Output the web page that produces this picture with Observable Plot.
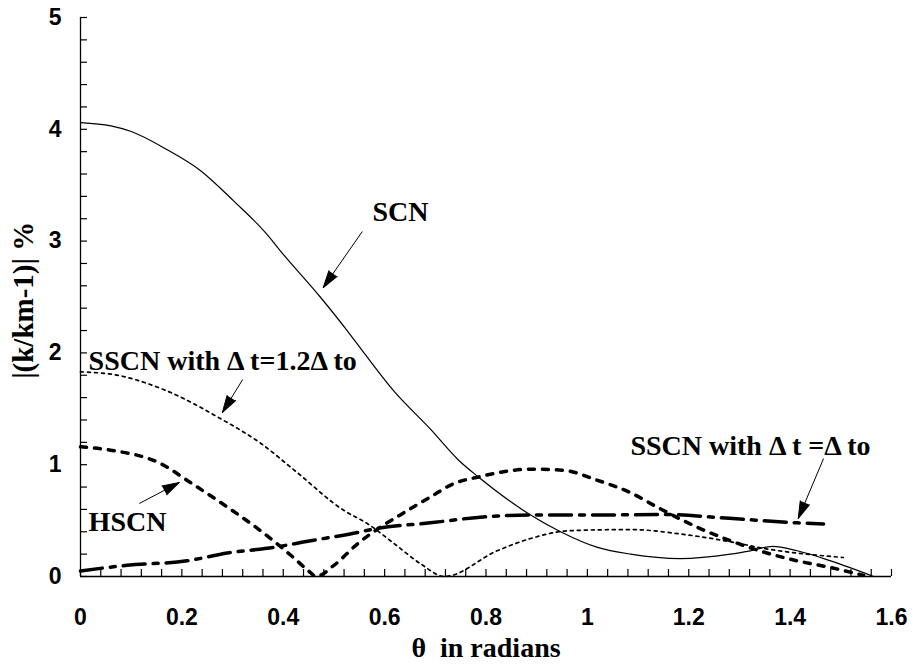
<!DOCTYPE html>
<html><head><meta charset="utf-8">
<script src="https://cdn.jsdelivr.net/npm/d3@7"></script>
<script src="https://cdn.jsdelivr.net/npm/@observablehq/plot@0.6"></script>
<style>body{margin:0;background:#fff}#chart svg{display:block}</style>
</head><body><div id="chart"></div>
<script>
// ---- data ----
const thetaSCN = [0, 0.06, 0.1, 0.17, 0.237, 0.302, 0.368, 0.393, 0.473, 0.526, 0.556, 0.618, 0.69, 0.746, 0.785, 0.888, 0.947, 1.02, 1.085, 1.183, 1.282, 1.321, 1.365, 1.414, 1.48, 1.565];
const valueSCN = [4.06, 4.03, 3.98, 3.82, 3.63, 3.36, 3.06, 2.92, 2.50, 2.20, 2.02, 1.66, 1.32, 1.04, 0.89, 0.55, 0.40, 0.26, 0.20, 0.16, 0.20, 0.23, 0.27, 0.23, 0.14, 0.0];

const thetaSSCN12 = [0, 0.06, 0.165, 0.277, 0.356, 0.422, 0.52, 0.567, 0.62, 0.672, 0.718, 0.822, 0.888, 0.966, 1.085, 1.184, 1.283, 1.35, 1.505];
const valueSSCN12 = [1.83, 1.81, 1.67, 1.41, 1.19, 0.95, 0.59, 0.47, 0.29, 0.11, 0.0, 0.23, 0.34, 0.41, 0.42, 0.38, 0.31, 0.25, 0.17];

const thetaHSCN = [0, 0.059, 0.158, 0.217, 0.29, 0.355, 0.42, 0.45, 0.465, 0.5, 0.546, 0.645, 0.69, 0.736, 0.785, 0.888, 0.953, 1.02, 1.085, 1.138, 1.217, 1.282, 1.347, 1.414, 1.48, 1.545];
const valueHSCN = [1.16, 1.13, 1.01, 0.84, 0.62, 0.41, 0.17, 0.05, 0.0, 0.10, 0.29, 0.59, 0.71, 0.83, 0.89, 0.96, 0.95, 0.86, 0.75, 0.62, 0.44, 0.32, 0.22, 0.14, 0.08, 0.01];

const thetaSSCN1 = [0, 0.092, 0.21, 0.29, 0.381, 0.454, 0.532, 0.585, 0.69, 0.789, 0.888, 1.02, 1.15, 1.28, 1.414, 1.466];
const valueSSCN1 = [0.05, 0.10, 0.14, 0.21, 0.26, 0.32, 0.38, 0.43, 0.48, 0.53, 0.55, 0.55, 0.555, 0.52, 0.48, 0.47];

const xTickValues = [0, 0.2, 0.4, 0.6, 0.8, 1, 1.2, 1.4, 1.6];
const xTickLabels = ["0", "0.2", "0.4", "0.6", "0.8", "1", "1.2", "1.4", "1.6"];
const yTickValues = [0, 1, 2, 3, 4, 5];
const yTickLabels = ["0", "1", "2", "3", "4", "5"];
const xMinorCount = 41;   // every 0.04
const yMinorCount = 26;   // every 0.2

const annotLabels = ["SCN", "SSCN with \u0394 t=1.2\u0394 to", "HSCN", "SSCN with \u0394 t =\u0394 to"];
const annotX = [0.576, 0.016, 0.016, 1.085];
const annotY = [3.184, 1.843, 0.411, 1.091];

const arrowFromX = [0.556, 0.320, 0.116, 1.466];
const arrowFromY = [3.086, 1.762, 0.653, 1.055];
const arrowToX = [0.479, 0.280, 0.195, 1.416];
const arrowToY = [2.585, 1.467, 0.841, 0.519];

const xTitle = "\u03b8  in radians";
const yTitle = "|(k/km-1)| %";

// ---- build ----
const mk = (name, th, v) => th.map((t, i) => ({series: name, theta: t, value: v[i]}));
const rowsSCN = mk("SCN", thetaSCN, valueSCN);
const rowsSSCN12 = mk("SSCN12", thetaSSCN12, valueSSCN12);
const rowsHSCN = mk("HSCN", thetaHSCN, valueHSCN);
const rowsSSCN1 = mk("SSCN1", thetaSSCN1, valueSSCN1);

const W = 914, H = 665;
const base = {
  width: W, height: H,
  marginLeft: 80, marginRight: 23, marginTop: 17, marginBottom: 89,
  x: {domain: [0, 1.6]},
  y: {domain: [0, 5]}
};
const probe = Plot.plot({...base, marks: [Plot.ruleY([0])]});
const sx = probe.scale("x"), sy = probe.scale("y");
const arrowIdx = arrowFromX.map((_, i) => i);
const arrowAngle = arrowIdx.map(i => {
  const dx = sx.apply(arrowToX[i]) - sx.apply(arrowFromX[i]);
  const dy = sy.apply(arrowToY[i]) - sy.apply(arrowFromY[i]);
  return Math.atan2(dx, -dy) * 180 / Math.PI;
});

const xMinor = d3.range(xMinorCount).map(i => +(i * 0.04).toFixed(2));
const yMinor = d3.range(yMinorCount).map(i => +(i * 0.2).toFixed(1));
const serif = "'Liberation Serif', 'Times New Roman', serif";

const chart = Plot.plot({
  ...base,
  style: {fontFamily: "'Liberation Sans', Arial, sans-serif", fontSize: "23px", fontWeight: "bold", background: "#fff", color: "black"},
  marks: [
    // axis lines
    Plot.ruleY([0], {x1: 0, x2: 1.6, stroke: "black", strokeWidth: 1.3}),
    Plot.ruleX([0], {y1: 0, y2: 5, stroke: "black", strokeWidth: 1.3}),
    // inward ticks
    Plot.axisX(xMinor, {tickSize: 7, dy: -7, text: null, label: null, stroke: "black", strokeWidth: 1.2}),
    Plot.axisY(yMinor, {tickSize: 7, dx: 7, text: null, label: null, stroke: "black", strokeWidth: 1.2}),
    // tick labels
    Plot.axisX(xTickValues, {tickSize: 0, tickPadding: 32, tickFormat: (d) => xTickLabels[xTickValues.indexOf(d)], label: null, fontSize: 23, fontWeight: "bold"}),
    Plot.axisY(yTickValues, {tickSize: 0, tickPadding: 19, tickFormat: (d) => yTickLabels[yTickValues.indexOf(d)], label: null, fontSize: 23, fontWeight: "bold"}),
    // series
    Plot.line(rowsSCN, {x: "theta", y: "value", stroke: "black", strokeWidth: 1.2, curve: "monotone-x"}),
    Plot.line(rowsSSCN12, {x: "theta", y: "value", stroke: "black", strokeWidth: 1.7, strokeDasharray: "3,4", curve: "monotone-x"}),
    Plot.line(rowsHSCN, {x: "theta", y: "value", stroke: "black", strokeWidth: 3.5, strokeDasharray: "6,8", curve: "monotone-x"}),
    Plot.line(rowsSSCN1, {x: "theta", y: "value", stroke: "black", strokeWidth: 3.5, strokeDasharray: "22,8,5,8", curve: "monotone-x"}),
    // annotations
    Plot.text(annotLabels, {x: (d, i) => annotX[i], y: (d, i) => annotY[i], text: d => d, textAnchor: "start", lineAnchor: "bottom", fontFamily: serif, fontSize: 28, fontWeight: "bold", fill: "black"}),
    Plot.link(arrowIdx, {x1: i => arrowFromX[i], y1: i => arrowFromY[i], x2: i => arrowToX[i], y2: i => arrowToY[i], stroke: "black", strokeWidth: 1}),
    Plot.vector(arrowIdx, {x: i => arrowToX[i], y: i => arrowToY[i], rotate: i => arrowAngle[i], length: 17, r: 5, shape: "spike", anchor: "end", fill: "black", stroke: "black", strokeWidth: 1}),
    // axis titles
    Plot.text([xTitle], {x: 0.8, y: -0.72, text: d => d, textAnchor: "middle", lineAnchor: "bottom", fontFamily: serif, fontSize: 28, fontWeight: "bold", fill: "black"}),
    Plot.text([yTitle], {x: -0.113, y: 2.47, text: d => d, rotate: -90, textAnchor: "middle", lineAnchor: "middle", fontFamily: serif, fontSize: 29, fontWeight: "bold", fill: "black"})
  ]
});
document.getElementById("chart").appendChild(chart);
</script>
</body></html>
